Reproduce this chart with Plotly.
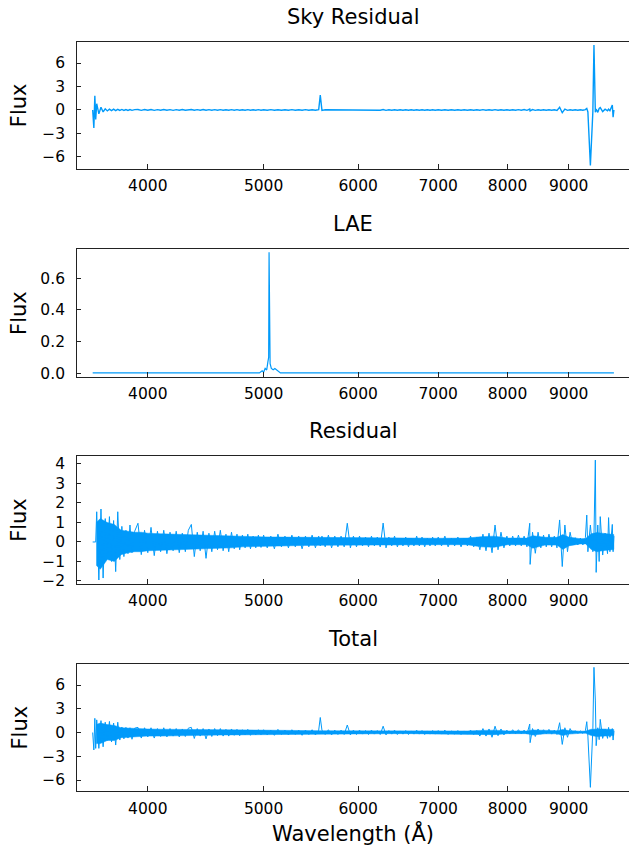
import math
import plotly.graph_objects as go

# ---------------- data ----------------
wavelength = [
    3597, 3605, 3612, 3618, 3625, 3640, 3655, 3670, 3685, 3700,
    3715, 3730, 3745, 3760, 3775, 3790, 3805, 3820, 3835, 3850,
    3865, 3880, 3900, 3925, 3950, 3975, 4000, 4025, 4050, 4075,
    4100, 4125, 4150, 4175, 4200, 4225, 4250, 4275, 4300, 4325,
    4350, 4375, 4400, 4425, 4450, 4475, 4500, 4525, 4550, 4575,
    4600, 4625, 4650, 4675, 4700, 4725, 4750, 4775, 4800, 4825,
    4850, 4875, 4900, 4925, 4950, 4975,
    5000, 5035, 5070, 5105, 5140, 5175, 5210, 5245, 5280, 5315,
    5350, 5385, 5420, 5455, 5490, 5525, 5560, 5577, 5595, 5630,
    5665, 5700, 5735, 5770, 5805, 5840, 5875, 5910, 5945, 5980,
    6015, 6050, 6085, 6120, 6155, 6190, 6225, 6260, 6295, 6330,
    6365, 6400, 6435, 6470, 6505, 6540, 6575, 6610, 6645, 6680,
    6715, 6750, 6785, 6820, 6855, 6890, 6925, 6960,
    7000, 7045, 7090, 7135, 7180, 7225, 7270, 7315, 7360, 7405,
    7450, 7495, 7540, 7585, 7630, 7675, 7720, 7765, 7810, 7855,
    7900, 7945, 7990, 8035, 8080, 8125, 8170, 8215, 8260, 8305,
    8350, 8356, 8395, 8440, 8485, 8530, 8575, 8620, 8665, 8710,
    8755, 8800, 8845, 8890, 8935, 8980, 9025, 9070, 9115, 9160,
    9205, 9250, 9295, 9320, 9340, 9385, 9430, 9450, 9475, 9490,
    9520, 9545, 9565, 9610, 9655, 9700, 9720, 9745, 9790, 9805,
    9820,
]

sky_flux = [
    0, -2.3, 1.8, -1.2, 0.8, -0.5, 0.35, -0.25, 0.15, -0.12,
    0.1, -0.08, 0.1, -0.08, 0.08, -0.06, 0.07, -0.06, 0.06, -0.05,
    0.06, -0.05, 0.05, 0.06, -0.05, 0.05, -0.04, 0.05, -0.05, 0.04,
    -0.04, 0.05, -0.04, 0.04, -0.05, 0.04, -0.04, 0.05, -0.04, 0.04,
    0.05, -0.04, 0.04, -0.04, 0.05, -0.04, 0.04, -0.04, 0.04, -0.03,
    0.04, -0.04, 0.03, -0.04, 0.04, -0.03, 0.04, -0.03, 0.03, -0.04,
    0.04, -0.03, 0.03, -0.03, 0.04, -0.03,
    0.03, -0.03, 0.04, -0.03, 0.03, -0.04, 0.03, -0.03, 0.04, -0.03,
    0.03, -0.03, 0.04, -0.03, 0.03, -0.04, 0.05, 1.9, -0.05, 0.03,
    0.03, -0.03, 0.04, -0.03, 0.03, -0.03, 0.05, -0.04, 0.03, -0.03,
    0.03, -0.03, 0.03, -0.03, 0.04, -0.03, 0.03, -0.03, 0.06, -0.05,
    0.03, -0.03, 0.03, -0.03, 0.03, -0.03, 0.03, -0.03, 0.03, -0.03,
    0.03, -0.03, 0.03, -0.03, 0.03, -0.03, 0.03, -0.03,
    0.03, -0.03, 0.03, -0.03, 0.03, -0.03, 0.03, -0.03, 0.03, -0.03,
    0.03, -0.03, 0.03, -0.04, 0.04, -0.03, 0.03, -0.04, 0.04, -0.03,
    0.03, -0.03, 0.03, -0.03, 0.03, -0.03, 0.04, -0.03, 0.05, -0.05,
    0.12, -0.12, 0.05, -0.05, 0.03, -0.03, 0.03, -0.03, 0.03, -0.03,
    0.03, -0.05, 0.35, -0.35, 0.1, -0.05, 0.03, -0.03, 0.03, -0.03,
    0.03, -0.03, 0.05, 0.2, -0.25, -7.1, -0.2, 8.3, -0.3, 0.1,
    -0.3, 0.2, 0.3, -0.2, 0.1, -0.1, 0.1, -0.1, 0.64, -0.93,
    0,
]

residual_flux = [
    0, 0, 0, 0, 1.55, -1.95, 1.69, -1.85, 1.2, -0.8,
    1.3, -1.0, 1.1, -1.52, 1.55, -0.9, 0.8, -0.75, 0.6, -0.6,
    0.87, -0.55, 0.55, 0.96, -0.65, 0.6, -0.55, 0.75, -0.7, 0.55,
    -0.5, 0.6, -0.6, 0.5, -0.45, 0.55, -0.55, 0.45, -0.5, 0.6,
    0.9, -0.75, 0.5, -0.45, 0.55, -0.84, 0.45, -0.5, 0.55, -0.4,
    0.6, -0.45, 0.4, -0.5, 0.5, -0.35, 0.4, -0.4, 0.35, -0.3,
    0.4, -0.35, 0.3, -0.3, 0.35, -0.28,
    0.35, -0.3, 0.3, -0.35, 0.4, -0.25, 0.3, -0.3, 0.35, -0.25,
    0.3, -0.35, 0.3, -0.25, 0.35, -0.3, 0.3, -0.2, 0.3, -0.25,
    0.35, -0.3, 0.3, -0.25, 0.3, -0.25, 0.96, -0.3, 0.3, -0.25,
    0.3, -0.2, 0.25, -0.25, 0.3, -0.2, 0.25, -0.25, 0.97, -0.3,
    0.25, -0.2, 0.3, -0.25, 0.2, -0.2, 0.25, -0.25, 0.2, -0.2,
    0.3, -0.2, 0.25, -0.25, 0.2, -0.2, 0.25, -0.2,
    0.25, -0.2, 0.3, -0.25, 0.2, -0.2, 0.25, -0.25, 0.2, -0.2,
    0.3, -0.25, 0.25, -0.4, 0.4, -0.45, 0.45, -0.55, 0.87, -0.4,
    0.5, -0.3, 0.3, -0.2, 0.3, -0.2, 0.35, -0.2, 0.3, -0.25,
    0.96, -1.15, 0.5, -0.58, 0.5, -0.3, 0.35, -0.25, 0.4, -0.25,
    0.3, -0.3, 1.13, -1.26, 0.87, -0.5, 0.5, -0.15, 0.22, -0.15,
    0.2, -0.15, 0.22, 1.38, -0.5, 0.87, -0.5, 0.3, 4.2, -1.56,
    0.87, -1.0, 1.3, -0.67, 0.45, -0.6, 1.25, -0.5, 0.9, -0.5,
    0.3,
]

total_flux = [
    0, -2.2, 1.79, -2.0, 1.6, -2.0, 1.5, -1.8, 1.3, -1.0,
    1.4, -1.2, 1.2, -1.58, 1.3, -0.95, 0.7, -0.8, 0.65, -0.7,
    0.6, -0.85, 0.55, 0.65, -0.7, 0.6, -0.55, 0.6, -0.7, 0.5,
    -0.5, 0.6, -0.55, 0.5, -0.45, 0.5, -0.55, 0.45, -0.5, 0.55,
    0.65, -0.75, 0.5, -0.45, 0.5, -0.8, 0.45, -0.5, 0.5, -0.4,
    0.5, -0.45, 0.4, -0.45, 0.45, -0.35, 0.4, -0.4, 0.35, -0.3,
    0.4, -0.35, 0.3, -0.3, 0.35, -0.28,
    0.35, -0.3, 0.3, -0.35, 0.4, -0.25, 0.3, -0.3, 0.35, -0.25,
    0.3, -0.35, 0.3, -0.25, 0.35, -0.3, 0.3, 1.9, 0.3, -0.25,
    0.35, -0.3, 0.3, -0.25, 0.3, -0.25, 0.95, -0.3, 0.3, -0.25,
    0.3, -0.2, 0.25, -0.25, 0.3, -0.2, 0.25, -0.25, 0.8, -0.3,
    0.25, -0.2, 0.3, -0.25, 0.2, -0.2, 0.25, -0.25, 0.2, -0.2,
    0.3, -0.2, 0.25, -0.25, 0.2, -0.2, 0.25, -0.2,
    0.25, -0.2, 0.3, -0.25, 0.2, -0.2, 0.25, -0.25, 0.2, -0.2,
    0.3, -0.25, 0.25, -0.45, 0.5, -0.45, 0.45, -0.6, 0.8, -0.4,
    0.45, -0.3, 0.3, -0.15, 0.35, -0.15, 0.35, -0.15, 0.3, -0.2,
    1.07, -1.28, 0.5, -0.5, 0.45, -0.2, 0.35, -0.15, 0.4, -0.2,
    0.3, -0.25, 1.24, -1.5, 0.6, -0.6, 0.5, -0.1, 0.23, -0.1,
    0.2, -0.1, 0.23, 1.37, -0.45, -6.92, 0.5, 8.23, 4.1, -1.66,
    0.6, -0.9, 1.66, -0.74, 0.45, -0.74, 0.65, -0.6, 0.5, -0.95,
    0.2,
]

# dense core of the noise band (where the spectrum fills solidly)
core_wavelength = [3622, 3650, 3700, 3750, 3800, 3850, 3900, 3950, 4000, 4100,
                   4200, 4300, 4400, 4500, 4600, 4700, 4800, 4900, 5000, 5200,
                   5400, 5600, 5800, 6000, 6300, 6600, 7000, 7400, 7600, 7800,
                   8000, 8300, 8400, 8600, 8800, 8900, 9000, 9200, 9300, 9400,
                   9500, 9600, 9700, 9818]
residual_core_upper = [1.0, 1.2, 1.0, 0.9, 0.6, 0.55, 0.5, 0.5, 0.45, 0.42,
                       0.4, 0.38, 0.36, 0.34, 0.32, 0.3, 0.28, 0.26, 0.26, 0.25,
                       0.24, 0.23, 0.22, 0.21, 0.2, 0.19, 0.19, 0.2, 0.27, 0.3,
                       0.2, 0.2, 0.32, 0.24, 0.24, 0.38, 0.25, 0.17, 0.18, 0.42,
                       0.48, 0.45, 0.42, 0.38]
residual_core_lower = [-1.2, -1.4, -0.9, -1.0, -0.65, -0.55, -0.5, -0.5, -0.45, -0.45,
                       -0.42, -0.4, -0.38, -0.36, -0.32, -0.3, -0.25, -0.22, -0.2, -0.2,
                       -0.18, -0.17, -0.17, -0.16, -0.15, -0.14, -0.14, -0.14, -0.25, -0.27,
                       -0.14, -0.14, -0.32, -0.16, -0.16, -0.38, -0.2, -0.1, -0.1, -0.38,
                       -0.5, -0.45, -0.4, -0.38]
total_core_upper = [1.0, 1.2, 1.0, 0.9, 0.6, 0.55, 0.5, 0.48, 0.45, 0.42,
                    0.4, 0.36, 0.35, 0.33, 0.31, 0.29, 0.27, 0.26, 0.26, 0.25,
                    0.24, 0.23, 0.22, 0.21, 0.2, 0.19, 0.19, 0.2, 0.27, 0.3,
                    0.2, 0.2, 0.32, 0.24, 0.24, 0.38, 0.25, 0.17, 0.18, 0.42,
                    0.48, 0.45, 0.42, 0.38]
total_core_lower = [-1.4, -1.4, -1.0, -1.0, -0.65, -0.58, -0.5, -0.5, -0.45, -0.45,
                    -0.42, -0.4, -0.38, -0.36, -0.32, -0.3, -0.25, -0.22, -0.2, -0.2,
                    -0.18, -0.17, -0.17, -0.16, -0.15, -0.14, -0.14, -0.14, -0.25, -0.27,
                    -0.14, -0.14, -0.32, -0.16, -0.16, -0.38, -0.2, -0.1, -0.1, -0.38,
                    -0.5, -0.45, -0.4, -0.38]

lae_wavelength = [3597, 4960, 4986, 5000, 5015, 5030, 5041, 5049, 5053, 5057,
                  5063, 5075, 5093, 5110, 5133, 5150, 5165, 9820]
lae_flux = [0.002, 0.002, 0.015, 0.006, 0.03, 0.02, 0.07, 0.1, 0.764, 0.09,
            0.06, 0.03, 0.022, 0.03, 0.02, 0.01, 0.002, 0.002]

titles = ["Sky Residual", "LAE", "Residual", "Total"]
x_tick_values = [4000, 5000, 6000, 7000, 8000, 9000]
x_tick_labels = ["4000", "5000", "6000", "7000", "8000", "9000"]
y_tick_values = [[-6, -3, 0, 3, 6], [0, 0.2, 0.4, 0.6], [-2, -1, 0, 1, 2, 3, 4], [-6, -3, 0, 3, 6]]
y_tick_labels = [["−6", "−3", "0", "3", "6"], ["0.0", "0.2", "0.4", "0.6"],
                 ["−2", "−1", "0", "1", "2", "3", "4"], ["−6", "−3", "0", "3", "6"]]
x_label = "Wavelength (Å)"
y_label = "Flux"

# ---------------- layout / style ----------------
W, H = 629, 846
FONT = "DejaVu Sans"
COLOR = "#009afa"
AXC = "#222222"
y_ranges = [[-7.50, 8.72], [-0.0229, 0.785], [-2.14, 4.41], [-7.42, 8.69]]
panel_px = [(41.7, 168.7), (249.0, 376.8), (456.0, 583.7), (663.7, 791.3)]
line_widths = [1.4, 1.2, 1.0, 1.0]
x_left_px = 77.1
x_dom = [x_left_px / W, 1.0]
x_range = [math.log10(3490.6), math.log10(10110)]

series = [(wavelength, sky_flux), (lae_wavelength, lae_flux),
          (wavelength, residual_flux), (wavelength, total_flux)]
cores = {2: (residual_core_upper, residual_core_lower),
         3: (total_core_upper, total_core_lower)}

fig = go.Figure()
annotations = []
for i in range(4):
    n = "" if i == 0 else str(i + 1)
    if i in cores:
        up, lo = cores[i]
        fig.add_trace(go.Scatter(
            x=core_wavelength + core_wavelength[::-1], y=up + lo[::-1],
            mode="lines", fill="toself", fillcolor=COLOR,
            line=dict(color=COLOR, width=0.5),
            xaxis="x" + n, yaxis="y" + n, showlegend=False, hoverinfo="skip"))
    xs, ys = series[i]
    fig.add_trace(go.Scatter(x=xs, y=ys, mode="lines",
                             line=dict(color=COLOR, width=line_widths[i]),
                             xaxis="x" + n, yaxis="y" + n, showlegend=False,
                             hoverinfo="skip"))
    top, bot = panel_px[i]
    fig.layout["xaxis" + n] = dict(
        domain=x_dom, anchor="y" + n, type="log", range=x_range,
        tickmode="array", tickvals=x_tick_values, ticktext=x_tick_labels,
        ticks="inside", ticklen=5, tickwidth=1, tickcolor=AXC,
        showline=True, mirror=True, linecolor=AXC, linewidth=1,
        showgrid=False, zeroline=False, automargin=False,
        tickfont=dict(family=FONT, size=15.5, color="#000"),
        ticklabelstandoff=3,
    )
    fig.layout["yaxis" + n] = dict(
        domain=[1 - bot / H, 1 - top / H], anchor="x" + n, range=y_ranges[i],
        tickmode="array", tickvals=y_tick_values[i], ticktext=y_tick_labels[i],
        ticks="inside", ticklen=4, tickwidth=1, tickcolor=AXC,
        showline=True, mirror=True, linecolor=AXC, linewidth=1,
        showgrid=False, zeroline=False, automargin=False,
        tickfont=dict(family=FONT, size=15.5, color="#000"),
        ticklabelstandoff=8,
    )
    annotations.append(dict(text=titles[i], xref="paper", yref="paper",
                            x=(x_left_px + W) / 2 / W, y=1 - (top - 25) / H,
                            xanchor="center", yanchor="middle", showarrow=False,
                            font=dict(family=FONT, size=21, color="#000")))
    annotations.append(dict(text=y_label, xref="paper", yref="paper",
                            x=19 / W, y=1 - (top + bot) / 2 / H, textangle=-90,
                            xanchor="center", yanchor="middle", showarrow=False,
                            font=dict(family=FONT, size=21, color="#000")))

annotations.append(dict(text=x_label, xref="paper", yref="paper",
                        x=(x_left_px + W) / 2 / W, y=1 - 833 / H,
                        xanchor="center", yanchor="middle", showarrow=False,
                        font=dict(family=FONT, size=21, color="#000")))

fig.update_layout(width=W, height=H, margin=dict(l=0, r=0, t=0, b=0),
                  paper_bgcolor="white", plot_bgcolor="white",
                  annotations=annotations, font=dict(family=FONT))
fig.write_html("out.html")
